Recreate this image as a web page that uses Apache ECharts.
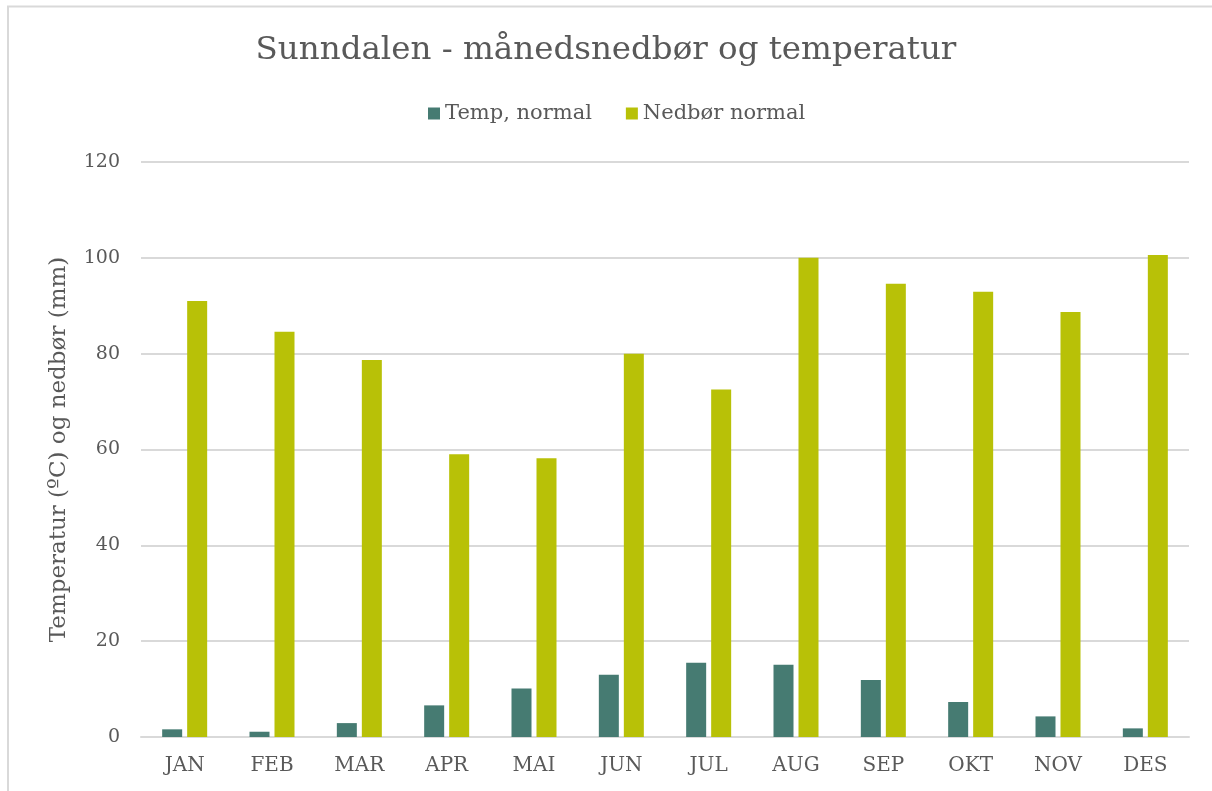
<!DOCTYPE html>
<html>
<head>
<meta charset="utf-8">
<script src="https://cdn.jsdelivr.net/npm/echarts@6/dist/echarts.min.js"></script>
<style>
  html, body { margin: 0; padding: 0; background: #fff; }
  #chart { width: 1212px; height: 791px; }
</style>
</head>
<body>
<div id="chart"></div>
<script>
// månedsverdier, lest av bildet
var months = ["JAN", "FEB", "MAR", "APR", "MAI", "JUN", "JUL", "AUG", "SEP", "OKT", "NOV", "DES"];
var tempNormal = [1.6, 1.1, 2.9, 6.6, 10.1, 13.0, 15.5, 15.1, 11.9, 7.3, 4.3, 1.8];
var nedborNormal = [91.0, 84.6, 78.7, 59.0, 58.2, 80.0, 72.5, 100.0, 94.6, 92.9, 88.7, 100.6];

var serif = "'DejaVu Serif', 'Liberation Serif', serif";
var textColor = "#595959";

var dom = document.getElementById("chart");
var myChart = echarts.init(dom);

var option = {
    animation: false,
    textStyle: { fontFamily: serif },
    graphic: [
        {
            // ytre ramme rundt diagrammet
            type: "rect",
            shape: { x: 8, y: 6.5, width: 1260, height: 900 },
            style: { fill: "none", stroke: "#d9d9d9", lineWidth: 2 },
            silent: true
        }
    ],
    title: {
        text: "Sunndalen - månedsnedbør og temperatur",
        left: "center",
        top: 29,
        textStyle: {
            color: textColor,
            fontFamily: serif,
            fontWeight: "normal",
            fontSize: 32.5
        }
    },
    legend: {
        top: 98,
        left: 423,
        itemWidth: 12,
        itemHeight: 12,
        itemGap: 34,
        icon: "rect",
        textStyle: {
            color: textColor,
            fontFamily: serif,
            fontSize: 21
        }
    },
    grid: {
        left: 141,
        right: 23,
        top: 162,
        bottom: 54,
        containLabel: false
    },
    xAxis: {
        type: "category",
        data: months,
        axisLine: { lineStyle: { color: "#d9d9d9", width: 2 } },
        axisTick: { show: false },
        axisLabel: {
            color: textColor,
            fontFamily: serif,
            fontSize: 20,
            margin: 19
        }
    },
    yAxis: {
        type: "value",
        min: 0,
        max: 120,
        interval: 20,
        name: "Temperatur (ºC) og nedbør (mm)",
        nameLocation: "middle",
        nameGap: 70,
        nameTextStyle: {
            color: textColor,
            fontFamily: serif,
            fontSize: 23
        },
        axisLine: { show: false },
        axisTick: { show: false },
        splitLine: { lineStyle: { color: "#d9d9d9", width: 2 } },
        axisLabel: {
            color: textColor,
            fontFamily: serif,
            fontSize: 19,
            margin: 21
        }
    },
    series: [
        {
            name: "Temp, normal",
            type: "bar",
            data: tempNormal,
            barWidth: 20,
            barGap: "25%",
            itemStyle: { color: "#467b72" }
        },
        {
            name: "Nedbør normal",
            type: "bar",
            data: nedborNormal,
            barWidth: 20,
            itemStyle: { color: "#b8c107" }
        }
    ]
};

if (option && typeof option === "object") {
    myChart.setOption(option, true);
}
window.addEventListener("resize", function () {
    myChart.resize();
});
</script>
</body>
</html>
